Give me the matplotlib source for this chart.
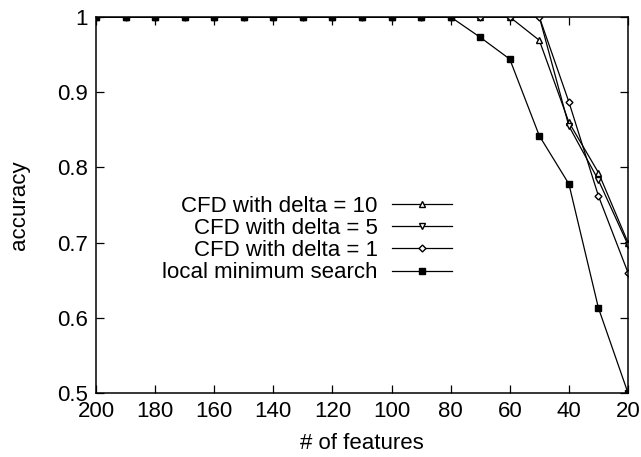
import numpy as np
import matplotlib
matplotlib.use('Agg')
import matplotlib.pyplot as plt

plt.rcParams['font.family'] = ['Liberation Sans', 'DejaVu Sans']

features = [200, 190, 180, 170, 160, 150, 140, 130, 120, 110, 100, 90, 80, 70, 60, 50, 40, 30, 20]

acc_delta10 = [1, 1, 1, 1, 1, 1, 1, 1, 1, 1, 1, 1, 1, 1, 1, 0.969, 0.860, 0.793, 0.700]
acc_delta5 = [1, 1, 1, 1, 1, 1, 1, 1, 1, 1, 1, 1, 1, 1, 1, 1, 0.855, 0.783, 0.697]
acc_delta1 = [1, 1, 1, 1, 1, 1, 1, 1, 1, 1, 1, 1, 1, 1, 1, 1, 0.887, 0.762, 0.660]
acc_local = [1, 1, 1, 1, 1, 1, 1, 1, 1, 1, 1, 1, 1, 0.973, 0.944, 0.842, 0.778, 0.613, 0.500]

labels = ['CFD with delta = 10', 'CFD with delta = 5', 'CFD with delta = 1', 'local minimum search']

fs = 16

fig = plt.figure(figsize=(6.41, 4.57), dpi=100)
ax = fig.add_axes([96 / 641, 1 - 393 / 457, 532 / 641, 376 / 457])

style = dict(color='black', lw=0.9, mec='black')
ax.plot(features, acc_delta10, marker='^', ms=4.5, mfc='white', label=labels[0], **style)
ax.plot(features, acc_delta5, marker='v', ms=4.5, mfc='white', label=labels[1], **style)
ax.plot(features, acc_delta1, marker='D', ms=3.5, mfc='white', label=labels[2], **style)
ax.plot(features, acc_local, marker='s', ms=4.5, mfc='black', label=labels[3], **style)

ax.set_xlim(200, 20)
ax.set_ylim(0.5, 1.0)
ax.set_xticks(np.arange(200, 19, -20))
ax.set_yticks([0.5, 0.6, 0.7, 0.8, 0.9, 1.0])
ax.set_yticklabels(['0.5', '0.6', '0.7', '0.8', '0.9', '1'])
ax.tick_params(direction='in', length=6, width=0.9, top=True, right=True, labelsize=fs, pad=6)
for s in ax.spines.values():
    s.set_linewidth(1.1)

ax.set_xlabel('# of features', fontsize=fs, labelpad=8)
ax.set_ylabel('accuracy', fontsize=fs, labelpad=19)

ax.legend(loc='upper right', bbox_to_anchor=(452 / 641, 1 - 196 / 457),
          bbox_transform=fig.transFigure, frameon=False, markerfirst=False,
          fontsize=fs, handlelength=2.7, handletextpad=0.65, labelspacing=0.05,
          borderpad=0, borderaxespad=0)

fig.savefig('out.png', dpi=100)
